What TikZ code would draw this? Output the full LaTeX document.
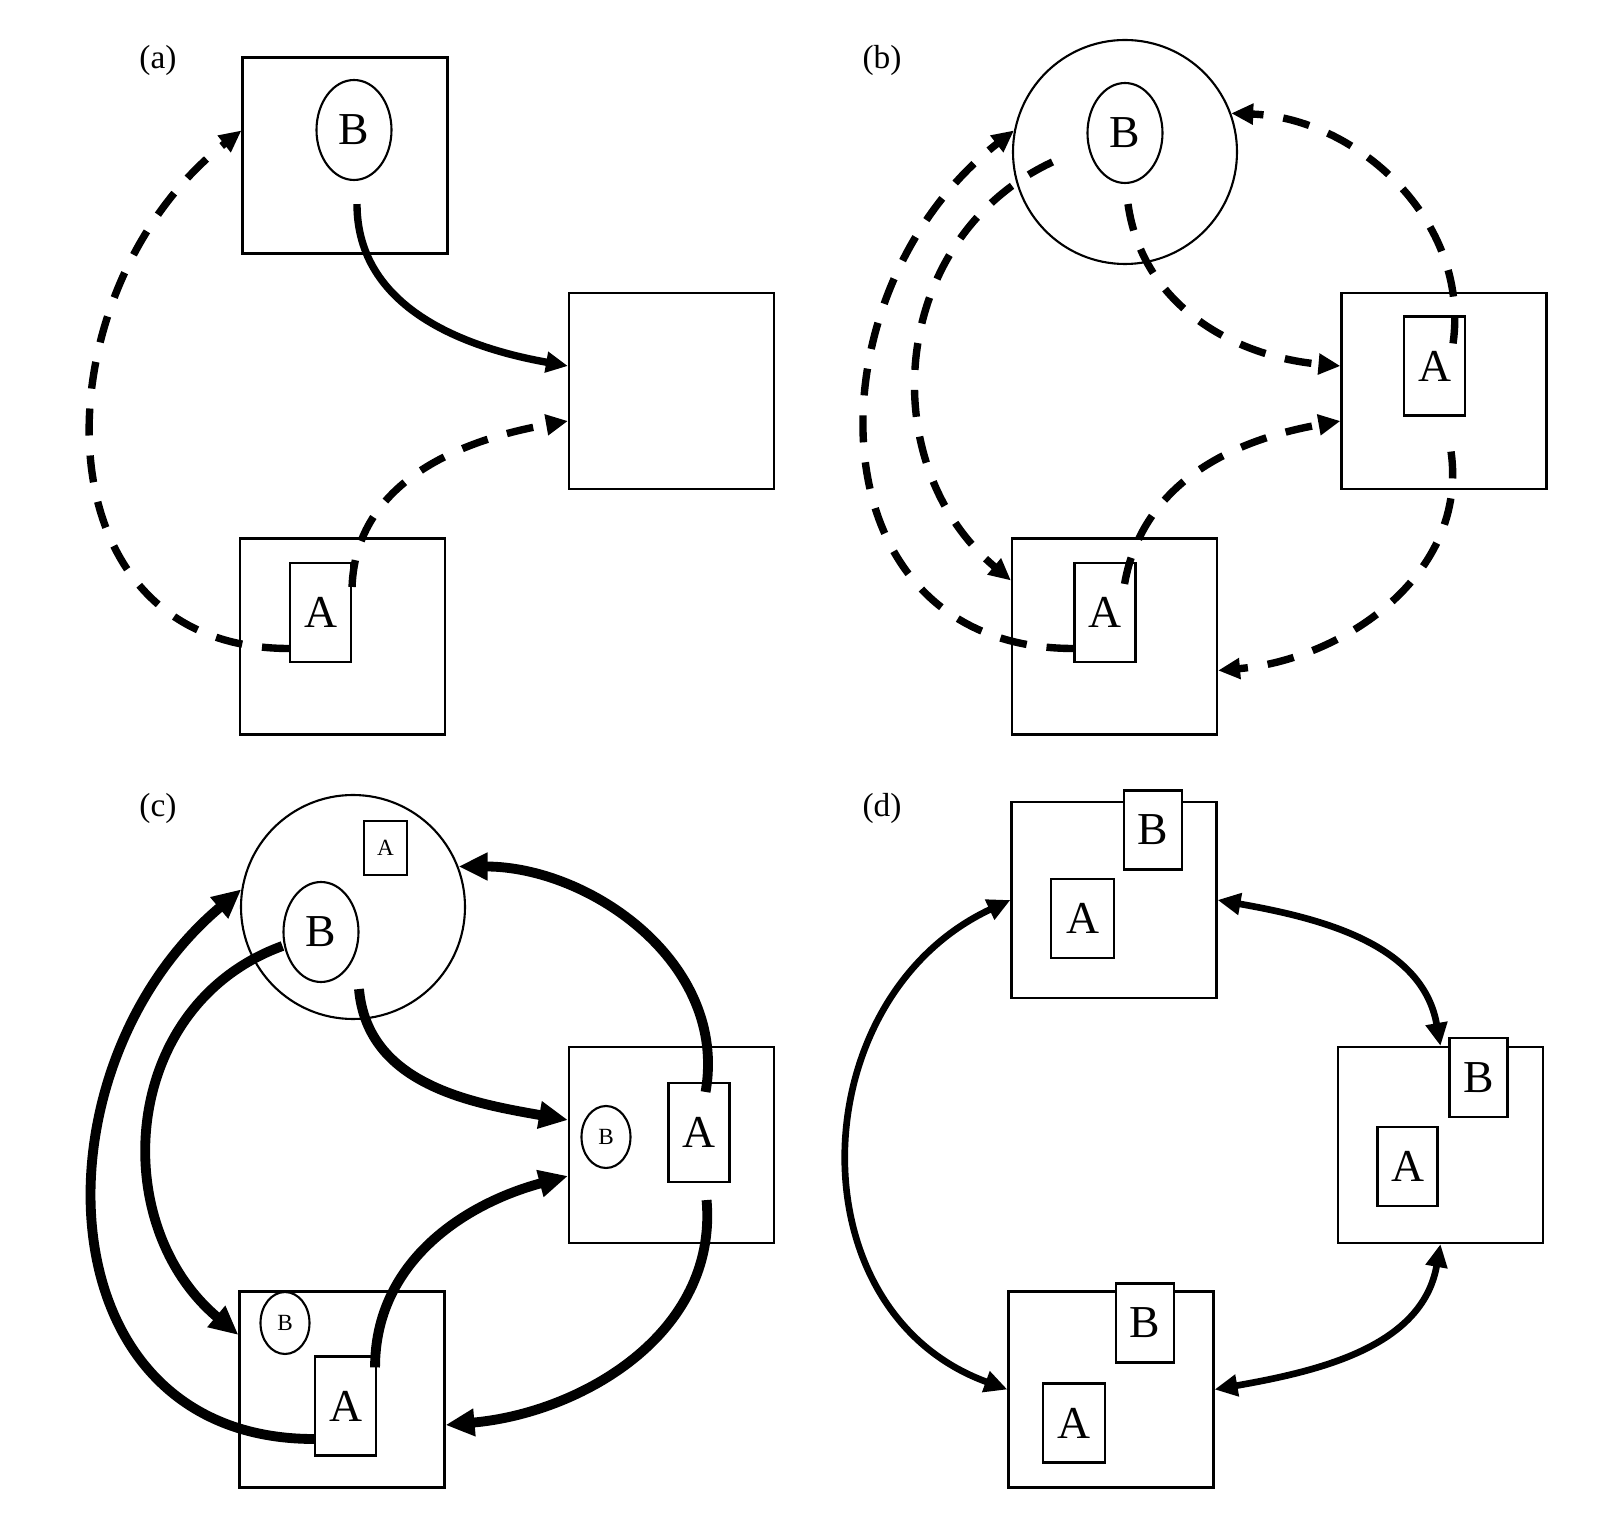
\documentclass[tikz,border=0pt]{standalone}
\usepackage{fontspec}
\setmainfont{Liberation Serif}
\usetikzlibrary{positioning,arrows.meta,shapes.geometric}

\begin{document}
\begin{tikzpicture}[
  frame/.style={draw, line width=0.6pt, minimum width=2.05cm, minimum height=1.96cm, inner sep=0pt},
  zone/.style={draw, circle, line width=0.6pt, minimum size=2.24cm, inner sep=0pt},
  blob/.style={draw, ellipse, line width=0.6pt, minimum width=0.75cm, minimum height=1.0cm, inner sep=0pt, font=\fontsize{13}{15}\selectfont},
  minblob/.style={blob, minimum width=0.49cm, minimum height=0.62cm, font=\fontsize{6.6}{7}\selectfont},
  tag/.style={draw, fill=white, line width=0.6pt, minimum width=0.61cm, minimum height=0.99cm, inner sep=0pt, font=\fontsize{13}{15}\selectfont},
  mintag/.style={tag, minimum width=0.43cm, minimum height=0.54cm, font=\fontsize{6.6}{7}\selectfont},
  sqtag/.style={tag, minimum width=0.60cm, minimum height=0.79cm},
  panel/.style={font=\fontsize{9.5}{11}\selectfont},
  dasharr/.style={-{Triangle[length=2.2mm,width=2mm]}, line width=2.1pt, dash pattern=on 2.7mm off 2mm},
  solidarr/.style={-{Triangle[length=2.2mm,width=2mm]}, line width=2.1pt},
  fatarr/.style={-{Triangle[length=2.9mm,width=2.6mm]}, line width=2.8pt},
  duoarr/.style={{Triangle[length=2.3mm,width=2.1mm]}-{Triangle[length=2.3mm,width=2.1mm]}, line width=1.9pt}
]
\useasboundingbox (0,0) rectangle (16.04,-15.22);

% (a)
\node[panel] (la) at (1.58,-0.60) {(a)};
\node[frame] (topa) at (3.45,-1.555) {};
\node[blob] (Ba) at (3.54,-1.30) {B};
\node[frame] (righta) at (6.715,-3.91) {};
\node[frame] (bota) at (3.425,-6.365) {};
\node[tag] (Aa) at (3.205,-6.125) {A};

\draw[solidarr] ([xshift=0.3mm,yshift=-2.3mm]Ba.south) to[out=-90,in=170] ([yshift=2.5mm]righta.west);
\draw[dasharr] ([yshift=-2.5mm]Aa.north east) to[out=88,in=190] ([yshift=-3mm]righta.west);
\draw[dasharr] ([yshift=-3.6mm]Aa.west) to[out=180,in=218,looseness=1.27] ([yshift=2.5mm]topa.west);

% (b)
\node[panel] (lb) at (8.82,-0.60) {(b)};
\node[zone] (zoneb) at (11.25,-1.52) {};
\node[blob] (Bb) at (11.25,-1.33) {B};
\node[frame] (rightb) at (14.44,-3.91) {};
\node[tag] (Arb) at (14.345,-3.66) {A};
\node[frame] (botb) at (11.145,-6.365) {};
\node[tag] (Ab) at (11.05,-6.125) {A};

\draw[dasharr] ([xshift=0.3mm,yshift=-2mm]Bb.south) to[out=-82,in=175] ([yshift=2.5mm]rightb.west);
\draw[dasharr] ([xshift=-1.2mm,yshift=-2.2mm]Ab.north east) to[out=80,in=190] ([yshift=-3mm]rightb.west);
\draw[dasharr] ([yshift=-3.6mm]Ab.west) to[out=180,in=218,looseness=1.3] (zoneb.169);
\draw[dasharr] ([xshift=-3.4mm,yshift=-2.9mm]Bb.west) to[out=205,in=140,looseness=1.1] ([yshift=5.6mm]botb.west);
\draw[dasharr] ([xshift=-1.3mm,yshift=-2.8mm]Arb.north east) to[out=82,in=-2] (zoneb.20);
\draw[dasharr] ([xshift=-1.5mm,yshift=-3.5mm]Arb.south east) to[out=-82,in=5] ([yshift=-3.4mm]botb.east);

% (c)
\node[panel] (lc) at (1.58,-8.08) {(c)};
\node[zone] (zonec) at (3.53,-9.07) {};
\node[mintag] (Atc) at (3.855,-8.48) {A};
\node[blob] (Bc) at (3.21,-9.32) {B};
\node[frame] (rightc) at (6.715,-11.45) {};
\node[minblob] (Brc) at (6.06,-11.37) {B};
\node[tag] (Arc) at (6.99,-11.325) {A};
\node[frame] (botc) at (3.42,-13.895) {};
\node[minblob] (Bbc) at (2.85,-13.23) {B};
\node[tag] (Abc) at (3.455,-14.06) {A};

\draw[fatarr] ([xshift=3.8mm,yshift=-0.6mm]Bc.south) to[out=-85,in=170] ([yshift=2.5mm]rightc.west);
\draw[fatarr] ([xshift=-0.2mm,yshift=-1.2mm]Abc.north east) to[out=90,in=195] ([yshift=-3.1mm]rightc.west);
\draw[fatarr] ([yshift=-3.3mm]Abc.west) to[out=180,in=220,looseness=1.27] (zonec.171);
\draw[fatarr] ([yshift=-1.4mm]Bc.west) to[out=200,in=140,looseness=1.13] ([yshift=5.45mm]botc.west);
\draw[fatarr] ([xshift=-2.5mm,yshift=-1mm]Arc.north east) to[out=80,in=0] (zonec.21);
\draw[fatarr] ([xshift=-2.4mm,yshift=-1.7mm]Arc.south east) to[out=-85,in=5] ([yshift=-3.55mm]botc.east);

% (d)
\node[panel] (ld) at (8.82,-8.08) {(d)};
\node[frame] (topd) at (11.14,-9.00) {};
\node[sqtag, minimum width=0.58cm] (Btd) at (11.53,-8.30) {B};
\node[sqtag, minimum width=0.63cm] (Atd) at (10.825,-9.185) {A};
\node[frame] (rightd) at (14.405,-11.45) {};
\node[sqtag, minimum width=0.58cm] (Brd) at (14.785,-10.775) {B};
\node[sqtag] (Ard) at (14.075,-11.665) {A};
\node[frame] (botd) at (11.11,-13.895) {};
\node[sqtag, minimum width=0.58cm] (Bbd) at (11.45,-13.23) {B};
\node[sqtag, minimum width=0.62cm] (Abd) at (10.74,-14.23) {A};

\draw[duoarr] (topd.west) to[out=205,in=160,looseness=1.2] (botd.west);
\draw[duoarr] (topd.east) to[out=-10,in=100] (rightd.north);
\draw[duoarr] (rightd.south) to[out=-100,in=10] (botd.east);
\end{tikzpicture}
\end{document}
